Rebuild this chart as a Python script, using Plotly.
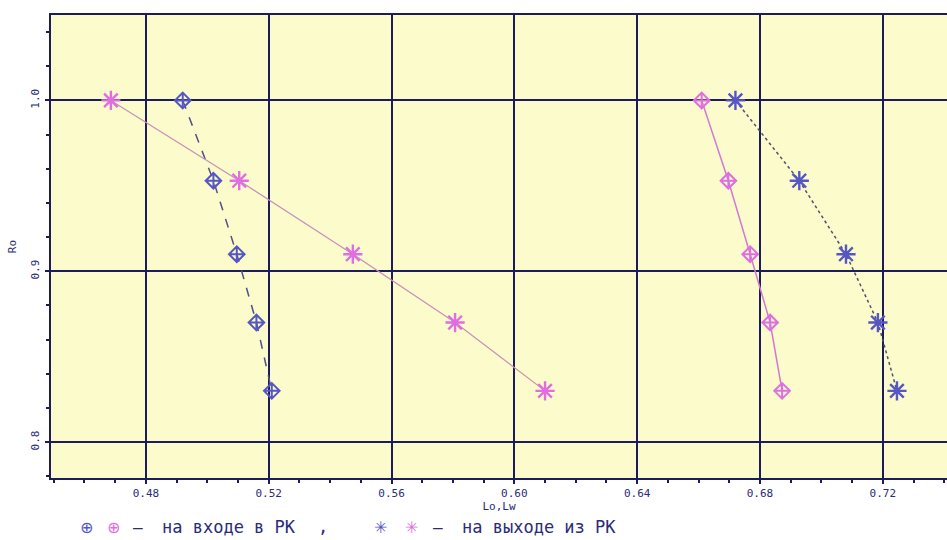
import plotly.graph_objects as go

# Data
ro = [1.0, 0.953, 0.91, 0.87, 0.83]
inlet_left = [0.492, 0.502, 0.5096, 0.516, 0.521]      # blue diamonds
outlet_left = [0.4686, 0.5104, 0.5474, 0.5807, 0.610]  # pink stars
inlet_right = [0.661, 0.6697, 0.6768, 0.6833, 0.6872]  # pink diamonds
outlet_right = [0.672, 0.6928, 0.708, 0.7184, 0.7246]  # blue stars

x_ticks = [0.48, 0.52, 0.56, 0.60, 0.64, 0.68, 0.72]
x_tick_text = ["0.48", "0.52", "0.56", "0.60", "0.64", "0.68", "0.72"]
y_ticks = [0.8, 0.9, 1.0]
y_tick_text = ["0.8", "0.9", "1.0"]

BLUE = "#5656c4"
PINK = "#e06ee0"
NAVY = "#1c1c5c"
TXT = "#2a2a7a"
FONT = "DejaVu Sans Mono"

fig = go.Figure()

fig.add_trace(go.Scatter(
    x=inlet_left, y=ro, mode="lines+markers",
    line=dict(color="#50508a", width=1.5, dash="dash"),
    marker=dict(symbol="diamond-cross-open", size=12, color=BLUE, line=dict(width=2, color=BLUE)),
    showlegend=False))
fig.add_trace(go.Scatter(
    x=outlet_left, y=ro, mode="lines+markers",
    line=dict(color="#c890b8", width=1.2),
    marker=dict(symbol="asterisk-open", size=16, color=PINK, line=dict(width=2.4, color=PINK)),
    showlegend=False))
fig.add_trace(go.Scatter(
    x=inlet_right, y=ro, mode="lines+markers",
    line=dict(color="#d27ad2", width=1.5),
    marker=dict(symbol="diamond-cross-open", size=12, color=PINK, line=dict(width=2, color=PINK)),
    showlegend=False))
fig.add_trace(go.Scatter(
    x=outlet_right, y=ro, mode="lines+markers",
    line=dict(color="#505070", width=1.5, dash="dot"),
    marker=dict(symbol="asterisk-open", size=16, color=BLUE, line=dict(width=2.4, color=BLUE)),
    showlegend=False))

fig.update_layout(
    width=947, height=540,
    margin=dict(l=51, r=0, t=15, b=62),
    paper_bgcolor="white",
    plot_bgcolor="#fbfbcb",
    font=dict(family=FONT, size=11, color=TXT),
    xaxis=dict(
        range=[0.4491, 0.7409],
        tickmode="array", tickvals=x_ticks, ticktext=x_tick_text,
        ticks="outside", ticklen=4, tickwidth=1.5, tickcolor=NAVY,
        minor=dict(dtick=0.01, tick0=0.48, ticks="outside", ticklen=3, tickcolor=NAVY, showgrid=False),
        showgrid=True, gridcolor=NAVY, gridwidth=2,
        showline=True, linecolor=NAVY, linewidth=2, mirror=True,
        zeroline=False,
        tickfont=dict(size=11, color=TXT, family=FONT),
        ticklabelstandoff=0,
        title=dict(text="Lo,Lw", font=dict(size=11, color=TXT, family=FONT), standoff=0),
    ),
    yaxis=dict(
        range=[0.779, 1.05],
        tickmode="array", tickvals=y_ticks, ticktext=y_tick_text,
        tickangle=-90,
        ticks="outside", ticklen=4, tickwidth=1.5, tickcolor=NAVY,
        minor=dict(dtick=0.02, tick0=0.8, ticks="outside", ticklen=3, tickcolor=NAVY, showgrid=False),
        showgrid=True, gridcolor=NAVY, gridwidth=2,
        showline=True, linecolor=NAVY, linewidth=2, mirror=False,
        zeroline=False,
        tickfont=dict(size=11, color=TXT, family=FONT),
        ticklabelstandoff=2,
        title=dict(text="Ro", font=dict(size=11, color=TXT, family=FONT), standoff=10),
    ),
)

# Custom legend line below the axis: (text, paper x, anchor, colour, font, size)
legend_y = -0.106
legend_items = [
    ("⊕", 0.0391, "center", BLUE, "DejaVu Sans", 16),
    ("⊕", 0.0703, "center", PINK, "DejaVu Sans", 16),
    ("–", 0.0971, "center", TXT, "DejaVu Sans Mono", 16),
    ("на входе в РК", 0.1217, "left", TXT, "DejaVu Sans Mono", 17),
    (",", 0.3035, "center", TXT, "DejaVu Sans Mono", 17),
    ("✳", 0.3683, "center", BLUE, "DejaVu Sans", 16),
    ("✳", 0.4029, "center", PINK, "DejaVu Sans", 16),
    ("–", 0.4319, "center", TXT, "DejaVu Sans Mono", 16),
    ("на выходе из РК", 0.4565, "left", TXT, "DejaVu Sans Mono", 17),
]
for text, px, anchor, color, family, size in legend_items:
    fig.add_annotation(
        text=text, xref="paper", yref="paper",
        x=px, y=legend_y, xanchor=anchor, yanchor="middle", showarrow=False,
        font=dict(family=family, size=size, color=color),
    )

fig.write_html(
    "out.html",
    config={"displayModeBar": False},
    post_script="document.body.style.margin='0';document.body.style.overflow='hidden';",
)
